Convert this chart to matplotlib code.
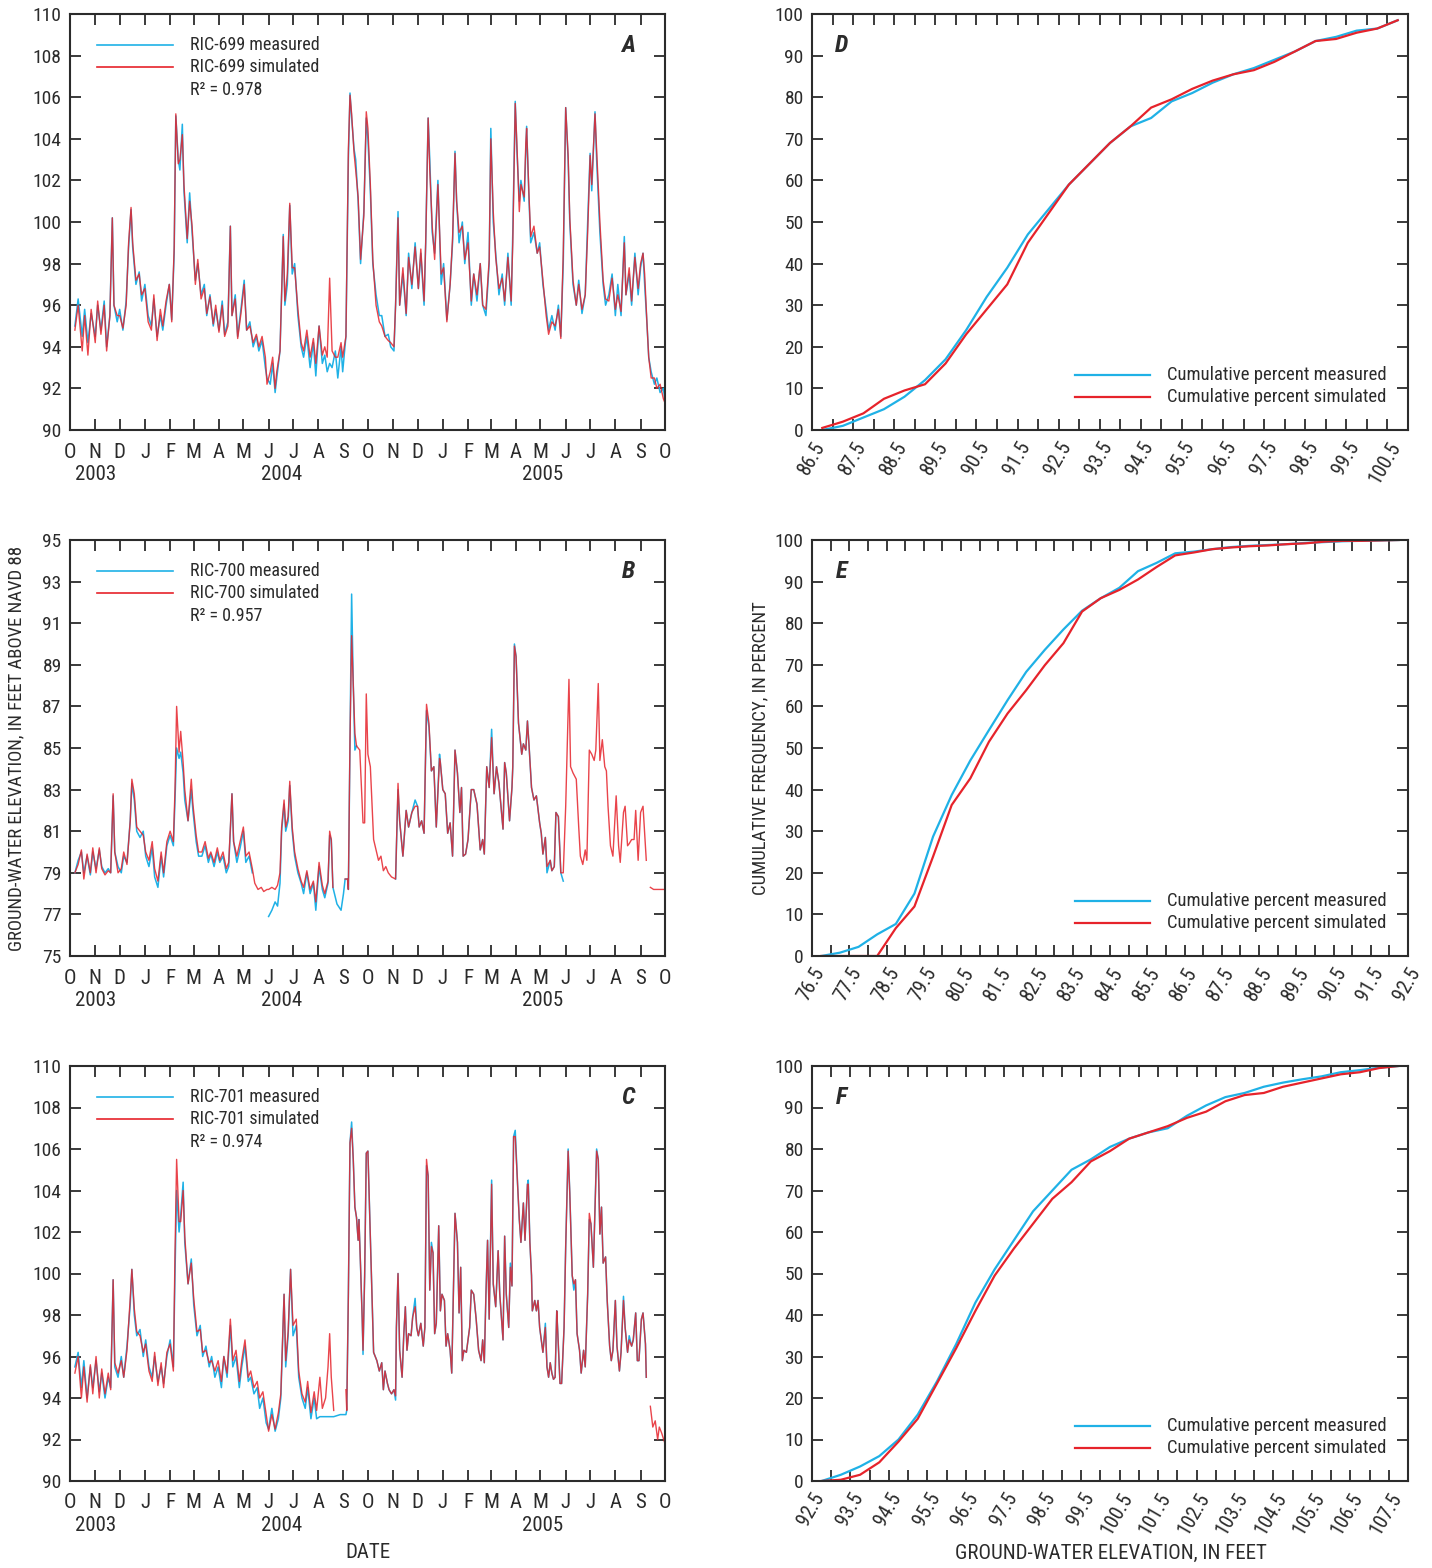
import numpy as np
import pandas as pd
import matplotlib
matplotlib.use('Agg')
import matplotlib.pyplot as plt
import matplotlib.transforms as mtrans
from matplotlib.lines import Line2D
from matplotlib import font_manager as fm

# pick a narrow sans if one is installed (the original uses a condensed face)
fonts = fm.fontManager.ttflist
names = {f.name for f in fonts}
if 'Liberation Sans Narrow' in names:
    plt.rcParams['font.family'] = ['Liberation Sans Narrow', 'DejaVu Sans']
elif 'Roboto Condensed' in names:
    plt.rcParams['font.family'] = ['Roboto Condensed', 'DejaVu Sans']
elif any(f.name == 'DejaVu Sans' and f.stretch == 'condensed' for f in fonts):
    plt.rcParams['font.family'] = ['DejaVu Sans']
    plt.rcParams['font.stretch'] = 'condensed'
else:
    plt.rcParams['font.family'] = ['Lato', 'DejaVu Sans']

nan = float('nan')
CYAN = '#1fb1e6'
RED = '#e6232b'
INK = '#2b2b2b'

# ---- hydrographs: days since 2003-10-01, measured / simulated ----
a_day = [6, 10, 15, 18, 22, 26, 31, 34, 38, 42, 45, 49, 52, 54, 58, 61, 65, 69, 72, 75,
         77, 81, 85, 88, 92, 96, 100, 103, 107, 111, 114, 118, 122, 125, 128, 130, 133, 135, 138, 140,
         144, 147, 150, 154, 157, 161, 165, 168, 172, 176, 179, 183, 187, 190, 194, 197, 199, 203, 206, 210,
         214, 217, 221, 225, 229, 232, 236, 240, 242, 246, 249, 252, 254, 258, 262, 264, 267, 270, 273, 276,
         280, 284, 287, 291, 295, 299, 302, 306, 310, 313, 316, 319, 322, 326, 329, 333, 335, 339, 342, 344,
         346, 349, 351, 354, 357, 361, 364, 366, 369, 372, 376, 380, 383, 387, 391, 394, 398, 400, 403, 405,
         409, 413, 416, 420, 424, 428, 431, 435, 437, 440, 442, 445, 448, 452, 456, 459, 463, 467, 470, 473,
         475, 478, 482, 485, 489, 493, 496, 500, 504, 507, 511, 515, 517, 520, 523, 527, 531, 534, 538, 542,
         544, 547, 549, 552, 554, 558, 560, 561, 564, 566, 570, 574, 577, 581, 585, 588, 592, 596, 600, 603,
         606, 609, 612, 614, 618, 622, 625, 629, 633, 636, 639, 641, 645, 647, 651, 655, 658, 662, 666, 670,
         673, 677, 681, 683, 687, 690, 694, 698, 701, 704, 706, 709, 711, 714, 718, 721, 725, 729, 731]
a_meas = [95.0, 96.3, 94.5, 95.8, 94.2, 95.6, 94.5, 96.0, 94.8, 96.2, 94.0, 95.5, 100.2, 96.0, 95.2, 95.8, 94.8, 96.2, 98.8, 100.6,
          98.8, 97.0, 97.6, 96.2, 97.0, 95.5, 95.0, 96.3, 94.5, 95.5, 94.8, 96.0, 97.0, 95.3, 98.5, 105.1, 103.0, 102.5, 104.7, 101.5,
          99.0, 101.4, 99.5, 97.2, 98.0, 96.5, 97.0, 95.5, 96.5, 95.0, 95.8, 94.8, 96.2, 94.6, 95.2, 99.8, 95.5, 96.5, 94.5, 95.8,
          97.2, 94.8, 95.2, 94.0, 94.5, 93.8, 94.3, 93.0, 92.5, 92.2, 93.2, 91.8, 92.5, 93.8, 99.4, 96.0, 97.0, 100.8, 97.5, 98.0,
          95.5, 94.0, 93.5, 94.5, 93.0, 94.2, 92.6, 95.0, 93.2, 93.6, 92.8, 93.2, 93.0, 93.8, 92.5, 94.0, 92.8, 94.5, 103.0, 106.2,
          105.0, 103.5, 103.0, 101.0, 98.0, 100.5, 105.0, 104.0, 101.5, 98.0, 96.5, 95.5, 95.5, 94.5, 94.6, 94.0, 93.8, 96.0, 100.5, 96.0,
          97.5, 95.5, 98.5, 96.8, 99.0, 96.8, 98.5, 96.0, 99.0, 105.0, 103.0, 99.5, 98.5, 102.0, 97.0, 98.0, 95.3, 97.0, 99.0, 103.4,
          101.0, 99.0, 100.0, 98.0, 99.5, 96.0, 97.5, 96.2, 98.0, 96.0, 95.5, 98.0, 104.5, 100.0, 98.5, 96.5, 97.5, 96.0, 98.5, 96.0,
          99.5, 105.8, 103.5, 101.0, 102.0, 101.0, 103.5, 104.6, 101.0, 99.0, 99.5, 98.5, 99.0, 97.0, 95.8, 94.8, 95.5, 94.8, 96.0, 94.5,
          98.0, 105.5, 103.0, 100.0, 97.0, 96.0, 97.2, 95.6, 96.5, 100.0, 103.3, 101.5, 105.3, 103.0, 99.5, 97.0, 96.0, 96.5, 97.5, 95.5,
          97.0, 95.5, 99.3, 96.5, 97.5, 96.0, 98.5, 96.5, 97.8, 98.5, 97.0, 95.0, 93.5, 92.8, 92.2, 92.5, 91.8, 92.0, 91.4]
a_sim = [94.8, 96.0, 93.8, 95.5, 93.6, 95.8, 94.2, 96.2, 94.6, 96.0, 93.8, 95.5, 100.2, 96.0, 95.5, 95.5, 94.9, 96.0, 99.0, 100.7,
         99.0, 97.2, 97.5, 96.5, 96.8, 95.2, 94.8, 96.5, 94.3, 95.8, 95.0, 96.2, 97.0, 95.2, 98.8, 105.2, 102.8, 103.0, 104.2, 101.8,
         99.2, 101.0, 99.8, 97.0, 98.2, 96.3, 96.8, 95.6, 96.4, 95.1, 96.0, 94.7, 96.0, 94.5, 95.0, 99.8, 95.5, 96.3, 94.4, 95.6,
         97.0, 94.8, 95.0, 94.2, 94.6, 94.0, 94.5, 93.5, 92.2, 92.8, 93.5, 92.0, 92.8, 93.8, 99.3, 96.2, 97.5, 100.9, 97.8, 97.8,
         95.8, 94.2, 93.8, 94.8, 93.5, 94.4, 93.2, 95.0, 93.6, 94.0, 93.5, 97.3, 93.8, 93.5, 93.5, 94.2, 93.5, 94.5, 103.5, 106.1,
         105.2, 103.3, 102.5, 101.2, 98.2, 100.3, 105.3, 104.5, 101.8, 98.2, 96.0, 95.2, 95.0, 94.5, 94.3, 94.2, 94.0, 96.0, 100.2, 96.0,
         97.8, 95.6, 98.3, 97.0, 98.8, 96.8, 98.7, 96.2, 99.0, 105.0, 102.5, 99.8, 98.2, 101.8, 97.5, 97.8, 95.2, 97.0, 99.2, 103.3,
         101.0, 99.5, 99.8, 98.2, 99.0, 96.2, 97.5, 96.5, 98.0, 96.0, 95.8, 98.2, 104.0, 100.5, 98.3, 96.8, 97.3, 96.2, 98.3, 96.2,
         99.0, 105.7, 103.8, 100.5, 101.8, 101.2, 103.8, 104.5, 101.2, 99.3, 99.8, 98.5, 98.8, 97.2, 95.5, 94.6, 95.2, 95.0, 95.8, 94.4,
         98.5, 105.5, 103.2, 100.2, 97.2, 96.0, 97.0, 95.8, 96.5, 99.5, 103.2, 101.8, 105.2, 103.5, 100.0, 97.2, 96.3, 96.2, 97.3, 95.8,
         96.5, 95.7, 99.0, 96.5, 97.8, 96.2, 98.3, 96.8, 98.0, 98.5, 97.5, 95.0, 93.5, 92.5, 92.5, 92.0, 92.2, 91.5, 91.3]

b_day = [6, 10, 14, 17, 21, 25, 28, 32, 36, 39, 43, 47, 50, 53, 55, 59, 63, 66, 70, 74,
         76, 79, 82, 86, 90, 93, 97, 101, 104, 108, 112, 115, 119, 123, 127, 129, 131, 134, 136, 139,
         141, 145, 149, 151, 155, 158, 162, 166, 170, 173, 177, 181, 184, 188, 192, 195, 199, 201, 205, 209,
         213, 216, 220, 224, 227, 231, 235, 238, 242, 244, 248, 252, 255, 258, 260, 263, 265, 268, 270, 273,
         276, 280, 284, 287, 291, 295, 299, 302, 306, 310, 313, 317, 319, 321, 323, 328, 333, 336, 338, 341,
         342, 344, 346, 348, 350, 352, 356, 360, 362, 364, 366, 369, 373, 376, 379, 382, 385, 388, 391, 395,
         400, 403, 405, 409, 413, 416, 420, 424, 427, 429, 432, 435, 438, 441, 444, 447, 450, 454, 455, 458,
         461, 464, 467, 470, 473, 476, 479, 481, 483, 486, 489, 493, 496, 500, 504, 507, 509, 512, 515, 518,
         521, 524, 527, 532, 534, 536, 540, 543, 544, 546, 548, 551, 555, 557, 560, 562, 564, 567, 570, 573,
         577, 579, 581, 584, 586, 590, 592, 595, 597, 600, 603, 606, 609, 613, 615, 618, 622, 625, 627, 630,
         633, 635, 638, 641, 644, 646, 649, 651, 654, 657, 659, 661, 664, 667, 671, 674, 676, 680, 682, 685,
         687, 690, 693, 695, 698, 701, 704, 708, 710, 713, 717, 723, 731]
b_meas = [79.0, 79.6, 80.0, 79.0, 79.8, 78.9, 80.0, 79.2, 80.1, 79.3, 79.0, 79.2, 79.0, 82.7, 80.0, 79.3, 79.0, 79.8, 79.5, 81.5,
          83.3, 82.5, 81.0, 80.7, 81.0, 79.8, 79.3, 80.2, 78.8, 78.3, 79.8, 78.8, 80.3, 80.8, 80.3, 82.5, 85.0, 84.5, 84.8, 83.8,
          82.5, 81.5, 83.0, 82.0, 80.5, 79.8, 79.8, 80.3, 79.5, 79.9, 79.3, 80.0, 79.5, 79.8, 79.0, 79.3, 82.8, 80.5, 79.5, 80.2,
          81.0, 79.5, 79.8, 79.0, nan, nan, nan, nan, nan, 76.9, 77.2, 77.6, 77.4, 78.5, 81.0, 82.3, 81.0, 81.5, 83.2, 81.0,
          79.8, 79.0, 78.5, 78.0, 79.0, 78.0, 78.5, 77.2, 79.3, 78.2, 77.8, 78.5, 80.8, 80.6, 78.3, 77.5, 77.2, 78.0, 78.7, 78.7,
          78.2, 85.4, 92.4, 88.1, 84.9, 85.1, nan, nan, nan, nan, nan, nan, nan, nan, nan, nan, nan, nan, nan, nan,
          78.7, 83.0, 81.5, 79.8, 82.0, 81.2, 81.9, 82.5, 82.2, 81.2, 81.5, 80.9, 86.8, 86.0, 83.9, 84.1, 81.2, 84.7, 84.3, 83.0,
          82.8, 80.9, 81.4, 79.8, 84.9, 83.8, 81.9, 83.1, 79.8, 79.9, 80.6, 83.0, 83.0, 82.3, 80.1, 80.6, 79.9, 84.1, 83.1, 85.9,
          82.8, 84.1, 83.3, 81.1, 84.3, 83.8, 81.5, 83.1, 84.1, 90.0, 89.4, 86.2, 84.7, 85.2, 84.9, 86.3, 85.1, 83.1, 82.5, 82.7,
          81.4, 80.9, 79.9, 80.7, 79.0, 79.6, 79.1, 79.3, 81.9, 81.7, 79.0, 78.6, nan, nan, nan, nan, nan, nan, nan, nan,
          nan, nan, nan, nan, nan, nan, nan, nan, nan, nan, nan, nan, nan, nan, nan, nan, nan, nan, nan, nan,
          nan, nan, nan, nan, nan, nan, nan, nan, nan, nan, nan, nan, nan]
b_sim = [79.0, 79.4, 80.1, 78.7, 79.9, 79.0, 80.2, 79.0, 80.2, 79.2, 78.9, 79.1, 79.0, 82.8, 80.0, 79.0, 79.2, 80.0, 79.4, 81.5,
         83.5, 82.8, 81.2, 81.0, 80.8, 80.0, 79.6, 80.5, 79.2, 78.6, 80.0, 79.0, 80.5, 81.0, 80.5, 83.0, 87.0, 84.8, 85.8, 84.3,
         83.0, 81.5, 83.5, 82.3, 80.8, 80.0, 80.0, 80.5, 79.7, 80.0, 79.5, 80.2, 79.6, 80.0, 79.2, 79.5, 82.8, 80.5, 79.8, 80.5,
         81.2, 79.8, 80.0, 79.2, 78.5, 78.2, 78.3, 78.1, 78.2, 78.2, 78.3, 78.2, 78.4, 79.0, 81.2, 82.5, 81.2, 81.7, 83.4, 81.2,
         80.0, 79.2, 78.6, 78.3, 79.1, 78.2, 78.6, 77.6, 79.5, 78.4, 78.0, 78.6, 81.0, 80.6, 78.3, nan, nan, nan, 78.7, 78.7,
         78.2, 85.4, 90.4, 88.1, 85.7, 85.1, 84.9, 81.4, 81.4, 87.6, 84.7, 84.1, 80.6, 80.1, 79.6, 79.8, 79.1, 79.3, 79.0, 78.8,
         78.7, 83.3, 81.5, 79.8, 82.0, 81.2, 81.9, 82.2, 82.2, 81.2, 81.5, 80.9, 87.1, 86.2, 83.9, 84.1, 81.2, 84.5, 84.3, 83.0,
         82.8, 80.9, 81.4, 79.8, 84.9, 83.8, 81.9, 83.1, 79.8, 79.9, 80.6, 83.0, 83.0, 82.3, 80.1, 80.6, 79.9, 84.1, 83.1, 85.5,
         82.8, 84.1, 83.3, 81.1, 84.3, 83.8, 81.5, 83.1, 84.1, 89.9, 89.4, 86.2, 84.7, 85.2, 84.9, 86.3, 85.1, 83.1, 82.5, 82.7,
         81.4, 80.9, 79.9, 80.7, 79.3, 79.6, 79.1, 79.3, 81.9, 81.7, 79.0, 79.0, 82.2, 88.3, 84.1, 83.8, 83.5, 81.2, 79.8, 79.4,
         80.1, 79.6, 84.9, 84.7, 84.4, 84.9, 88.1, 84.4, 85.4, 84.1, 83.9, 82.2, 80.3, 79.8, 82.7, 80.3, 79.5, 81.9, 82.2, 80.3,
         80.4, 80.6, 80.6, 82.0, 79.6, 81.9, 82.2, 79.6, nan, 78.3, 78.2, 78.2, 78.2]

c_day = [6, 10, 14, 17, 21, 25, 28, 32, 36, 39, 43, 47, 50, 53, 55, 59, 63, 66, 70, 74,
         76, 79, 82, 86, 90, 93, 97, 101, 104, 108, 112, 115, 119, 123, 127, 129, 131, 134, 136, 139,
         141, 145, 149, 152, 156, 160, 163, 167, 171, 174, 178, 182, 186, 189, 193, 197, 200, 204, 208, 211,
         215, 219, 222, 226, 230, 233, 237, 241, 244, 248, 252, 256, 259, 263, 265, 268, 271, 274, 278, 281,
         285, 289, 292, 296, 300, 303, 307, 310, 314, 317, 319, 321, 324, 332, 339, 340, 342, 344, 346, 348,
         350, 352, 354, 355, 357, 359, 360, 362, 364, 366, 368, 371, 373, 377, 380, 383, 385, 387, 390, 392,
         395, 398, 400, 401, 403, 405, 408, 410, 412, 414, 416, 419, 421, 424, 426, 428, 431, 434, 436, 438,
         440, 442, 444, 446, 448, 450, 453, 455, 457, 460, 462, 464, 467, 469, 471, 473, 476, 478, 480, 482,
         484, 487, 491, 493, 496, 499, 502, 505, 507, 509, 511, 513, 515, 518, 520, 523, 526, 528, 532, 534,
         536, 539, 541, 543, 545, 547, 550, 552, 554, 557, 559, 562, 563, 565, 567, 568, 571, 573, 575, 577,
         579, 581, 584, 586, 588, 590, 592, 594, 596, 598, 599, 602, 604, 607, 609, 612, 614, 617, 619, 621,
         623, 626, 628, 631, 633, 636, 638, 640, 643, 645, 647, 649, 651, 653, 655, 658, 660, 663, 665, 667,
         670, 672, 675, 677, 680, 682, 685, 687, 690, 692, 695, 697, 699, 702, 704, 707, 708, 710, 713, 716,
         719, 722, 724, 727, 731]
c_meas = [95.5, 96.2, 94.5, 95.8, 94.0, 95.5, 94.5, 95.8, 94.3, 95.2, 94.0, 95.0, 94.5, 99.7, 95.5, 95.0, 96.0, 95.0, 96.5, 98.5,
          100.2, 98.0, 97.0, 97.3, 96.0, 96.8, 95.5, 95.0, 96.0, 94.8, 95.5, 94.7, 96.0, 96.8, 95.5, 100.0, 104.0, 102.0, 102.8, 104.4,
          101.5, 99.5, 100.7, 98.5, 97.0, 97.5, 96.0, 96.5, 95.5, 96.0, 95.0, 95.5, 94.5, 96.0, 95.0, 97.5, 95.5, 96.0, 94.5, 95.5,
          96.5, 94.8, 95.0, 94.2, 94.5, 93.5, 94.0, 92.8, 92.5, 93.5, 92.4, 93.0, 94.0, 99.0, 95.5, 97.0, 100.2, 97.0, 97.5, 95.0,
          94.0, 93.5, 94.5, 93.0, 94.0, 93.0, 93.1, 93.1, 93.1, 93.1, 93.1, 93.1, 93.1, 93.2, 93.2, 93.4, 99.0, 106.3, 107.3, 105.5,
          103.2, 102.7, 101.6, 102.6, 100.3, 97.8, 96.1, 99.9, 105.8, 105.9, 103.1, 99.0, 96.2, 95.8, 95.3, 95.7, 94.4, 95.3, 94.7, 94.4,
          94.2, 94.4, 93.9, 97.4, 100.0, 96.3, 95.0, 97.0, 98.4, 96.3, 97.1, 97.0, 97.9, 98.8, 97.4, 97.0, 97.6, 96.5, 97.4, 105.2,
          104.7, 99.2, 101.5, 101.0, 97.1, 97.6, 102.3, 98.2, 99.0, 98.7, 96.5, 97.1, 96.3, 95.2, 99.0, 102.9, 101.5, 98.1, 100.3, 95.8,
          96.3, 96.2, 97.4, 99.2, 99.0, 97.8, 96.3, 95.8, 96.8, 95.7, 99.0, 101.6, 97.8, 104.5, 99.5, 98.4, 101.1, 99.0, 96.8, 101.8,
          99.0, 97.4, 100.5, 99.4, 106.6, 106.9, 104.2, 102.6, 101.5, 103.4, 101.6, 104.3, 104.5, 101.5, 99.9, 98.2, 98.7, 98.2, 98.7, 97.4,
          96.8, 96.2, 97.6, 95.5, 95.0, 95.7, 95.2, 94.9, 95.0, 98.2, 97.4, 94.7, 94.7, 97.4, 101.3, 106.0, 103.9, 99.9, 99.2, 99.7,
          97.1, 96.3, 95.2, 96.3, 95.5, 99.0, 102.6, 102.4, 100.3, 103.1, 106.0, 105.5, 101.9, 103.2, 100.5, 100.8, 98.7, 96.5, 95.8, 96.3,
          98.7, 96.5, 95.3, 96.2, 98.9, 97.4, 96.2, 97.0, 96.5, 96.8, 98.1, 95.8, 95.8, 97.8, 98.1, 96.6, 95.0, nan, nan, nan,
          nan, nan, nan, nan, nan]
c_sim = [95.2, 96.0, 94.0, 95.5, 93.8, 95.6, 94.2, 96.0, 94.0, 95.4, 94.2, 95.2, 94.4, 99.7, 95.7, 95.2, 95.8, 95.0, 96.3, 98.8,
         100.2, 98.3, 97.2, 97.0, 96.2, 96.6, 95.3, 94.8, 96.2, 94.6, 95.7, 94.5, 96.2, 96.6, 95.3, 101.0, 105.5, 102.5, 102.5, 104.0,
         101.8, 99.5, 100.5, 98.8, 97.2, 97.3, 96.2, 96.3, 95.7, 95.8, 95.3, 95.8, 94.8, 96.0, 95.2, 97.8, 95.8, 96.3, 94.8, 95.8,
         96.8, 95.0, 95.3, 94.5, 94.8, 94.0, 94.3, 93.2, 92.4, 93.2, 92.5, 93.3, 94.2, 99.0, 95.8, 97.2, 100.2, 97.5, 97.8, 95.3,
         94.2, 93.8, 94.8, 93.3, 94.3, 93.4, 95.0, 93.5, 94.0, 95.5, 97.1, 95.0, 93.4, nan, 94.4, 93.4, 99.0, 106.3, 107.0, 105.5,
         103.2, 102.7, 101.6, 102.6, 100.3, 97.8, 96.3, 99.9, 105.8, 105.9, 103.1, 99.0, 96.2, 95.8, 95.3, 95.7, 94.4, 95.3, 94.7, 94.4,
         94.2, 94.4, 94.1, 97.4, 100.0, 96.3, 95.0, 97.0, 98.4, 96.3, 97.1, 97.0, 97.9, 98.4, 97.4, 97.0, 97.6, 96.5, 97.4, 105.5,
         104.7, 99.2, 101.3, 101.0, 97.1, 97.6, 102.3, 98.2, 99.0, 98.7, 96.5, 97.1, 96.3, 95.2, 99.0, 102.9, 101.5, 98.1, 100.3, 95.8,
         96.3, 96.2, 97.4, 99.2, 99.0, 97.8, 96.3, 95.8, 96.8, 95.7, 99.0, 101.6, 97.8, 104.3, 99.5, 98.4, 101.1, 99.0, 96.8, 101.8,
         99.0, 97.4, 100.3, 99.4, 106.6, 106.6, 104.2, 102.6, 101.5, 103.4, 101.6, 104.3, 104.3, 101.5, 99.9, 98.2, 98.7, 98.2, 98.7, 97.4,
         96.8, 96.2, 97.4, 95.5, 95.0, 95.7, 95.2, 94.9, 95.0, 98.2, 97.4, 94.7, 94.7, 97.4, 101.3, 105.9, 103.9, 99.9, 99.5, 99.7,
         97.1, 96.3, 95.2, 96.3, 95.5, 99.0, 102.9, 102.4, 100.3, 103.1, 105.9, 105.5, 101.9, 103.2, 100.5, 100.8, 98.7, 96.5, 95.8, 96.3,
         98.7, 96.5, 95.3, 96.2, 98.7, 97.4, 96.2, 96.8, 96.5, 96.8, 98.1, 95.8, 95.8, 97.8, 98.1, 96.6, 95.0, nan, 93.6, 92.6,
         92.9, 92.0, 92.6, 92.3, 91.8]

# ---- cumulative frequency curves (percent) ----
d_elev = [86.75, 87.25, 87.75, 88.25, 88.75, 89.25, 89.75, 90.25, 90.75, 91.25, 91.75, 92.25, 92.75, 93.25, 93.75,
          94.25, 94.75, 95.25, 95.75, 96.25, 96.75, 97.25, 97.75, 98.25, 98.75, 99.25, 99.75, 100.25, 100.75]
d_meas = [0, 1, 3, 5, 8, 12, 17, 24, 32, 39, 47, 53, 59, 64, 69,
          73, 75, 79, 81, 83.5, 85.5, 87, 89, 91, 93.5, 94.5, 96, 96.5, 98.5]
d_sim = [0.5, 2, 4, 7.5, 9.5, 11, 16, 23, 29, 35, 45, 52, 59, 64, 69,
         73, 77.5, 79.5, 82, 84, 85.5, 86.5, 88.5, 91, 93.5, 94, 95.5, 96.5, 98.5]

e_elev = [76.75, 77.25, 77.75, 78.25, 78.75, 79.25, 79.75, 80.25, 80.75, 81.25, 81.75, 82.25, 82.75, 83.25, 83.75, 84.25,
          84.75, 85.25, 85.75, 86.25, 86.75, 87.25, 87.75, 88.25, 88.75, 89.25, 89.75, 90.25, 90.75, 91.25, 91.75, 92.25]
e_meas = [0, 0.8, 2.2, 5.2, 7.7, 15, 28.7, 38.7, 47, 54.3, 61.5, 68.3, 73.6, 78.5, 83, 86,
          88.5, 92.5, 94.5, 96.8, 97.2, 97.8, 98.3, 98.6, 98.8, 99.0, 99.3, 99.5, 99.7, 99.8, 99.9, 100]
e_sim = [0, 0, 0, 0, 6.7, 11.9, 23.9, 36.3, 42.7, 51.5, 58.3, 63.9, 69.9, 75.2, 82.8, 86,
         88, 90.5, 93.5, 96.3, 97, 97.8, 98.2, 98.5, 98.7, 99.0, 99.2, 99.6, 99.8, 99.8, 99.9, 100]

f_elev = [92.75, 93.25, 93.75, 94.25, 94.75, 95.25, 95.75, 96.25, 96.75, 97.25, 97.75, 98.25, 98.75, 99.25, 99.75, 100.25,
          100.75, 101.25, 101.75, 102.25, 102.75, 103.25, 103.75, 104.25, 104.75, 105.25, 105.75, 106.25, 106.75, 107.25, 107.75]
f_meas = [0, 1.5, 3.5, 6, 10, 16, 24, 33, 43, 51, 58, 65, 70, 75, 77.5, 80.5,
          82.5, 84, 85, 88, 90.5, 92.5, 93.5, 95, 96, 96.8, 97.5, 98.5, 99, 99.6, 100]
f_sim = [0, 0.3, 1.5, 4.5, 9.5, 15, 23.5, 32, 41, 49.5, 56, 62, 68, 72, 77, 79.5,
         82.5, 84, 85.5, 87.5, 89, 91.5, 93, 93.5, 95, 96, 97, 98, 98.5, 99.5, 100]

wells = ['RIC-699', 'RIC-700', 'RIC-701']
r2 = ['0.978', '0.957', '0.974']

start = pd.Timestamp('2003-10-01')
month_starts = pd.date_range('2003-10-01', '2005-10-01', freq='MS')
month_days = list((month_starts - start).days)
month_lbls = [m.strftime('%b')[0] for m in month_starts]
years = [('2003', 32), ('2004', 260), ('2005', 581)]

fig = plt.figure(figsize=(14.32, 15.68), dpi=100)
W, H = 1432, 1568


def add_ax(x0, top, bot, x1):
    return fig.add_axes([x0 / W, 1 - bot / H, (x1 - x0) / W, (bot - top) / H])


def frame(ax):
    for s in ax.spines.values():
        s.set_linewidth(1.5)
        s.set_color(INK)
    ax.tick_params(direction='in', top=True, right=True, length=8, width=1.3,
                   colors=INK, labelsize=14, pad=6)


rows = [(14, 430), (540, 956), (1066, 1481)]
ts = [(a_day, a_meas, a_sim, (90, 110), range(90, 111, 2)),
      (b_day, b_meas, b_sim, (75, 95), range(75, 96, 2)),
      (c_day, c_meas, c_sim, (90, 110), range(90, 111, 2))]
cum = [(d_elev, d_meas, d_sim, (86.5, 101.0)),
       (e_elev, e_meas, e_sim, (76.5, 92.5)),
       (f_elev, f_meas, f_sim, (92.5, 108.0))]
letters_l = ['A', 'B', 'C']
letters_r = ['D', 'E', 'F']

for i, (top, bot) in enumerate(rows):
    # hydrograph
    ax = add_ax(70, top, bot, 665)
    day, meas, sim, ylim, yt = ts[i]
    ax.plot(day, meas, color=CYAN, lw=1.1, solid_joinstyle='round')
    ax.plot(day, sim, color=RED, lw=1.0, alpha=0.85, solid_joinstyle='round')
    ax.set_xlim(0, 731)
    ax.set_ylim(*ylim)
    ax.set_yticks(list(yt))
    ax.set_xticks(month_days)
    ax.set_xticklabels(month_lbls)
    frame(ax)
    ax.tick_params(axis='x', labelsize=15, pad=9)
    tr = mtrans.blended_transform_factory(ax.transData, ax.transAxes)
    for yr, d in years:
        ax.text(d, -0.084, yr, transform=tr, ha='center', va='top', fontsize=15, color=INK)
    ax.add_line(Line2D([0.045, 0.173], [0.925, 0.925], transform=ax.transAxes, color=CYAN, lw=1.2))
    ax.add_line(Line2D([0.045, 0.173], [0.872, 0.872], transform=ax.transAxes, color=RED, lw=1.2))
    ax.text(0.202, 0.925, wells[i] + ' measured', transform=ax.transAxes, va='center', fontsize=13, color=INK)
    ax.text(0.202, 0.872, wells[i] + ' simulated', transform=ax.transAxes, va='center', fontsize=13, color=INK)
    ax.text(0.202, 0.818, 'R² = ' + r2[i], transform=ax.transAxes, va='center', fontsize=13, color=INK)
    ax.text(0.938, 0.925, letters_l[i], transform=ax.transAxes, ha='center', va='center',
            fontsize=17.5, fontweight='bold', fontstyle='italic', color=INK)

    # cumulative frequency
    ax2 = add_ax(812, top, bot, 1408)
    elev, cm, cs, xlim = cum[i]
    ax2.plot(elev, cm, color=CYAN, lw=1.6)
    ax2.plot(elev, cs, color=RED, lw=1.6)
    ax2.set_xlim(*xlim)
    ax2.set_ylim(0, 100)
    ax2.set_yticks(range(0, 101, 10))
    xt = np.arange(xlim[0], xlim[1] + 0.01, 0.5)
    ax2.set_xticks(xt)
    ax2.set_xticklabels([f'{v:.1f}' if abs(v % 1 - 0.5) < 1e-6 else '' for v in xt])
    frame(ax2)
    ax2.tick_params(axis='x', labelsize=14.5)
    for lab in ax2.get_xticklabels():
        lab.set_rotation(60)
        lab.set_ha('right')
        lab.set_va('top')
        lab.set_rotation_mode('anchor')
    ax2.add_line(Line2D([0.441, 0.567], [0.132, 0.132], transform=ax2.transAxes, color=CYAN, lw=1.6))
    ax2.add_line(Line2D([0.441, 0.567], [0.079, 0.079], transform=ax2.transAxes, color=RED, lw=1.6))
    ax2.text(0.596, 0.132, 'Cumulative percent measured', transform=ax2.transAxes, va='center',
             fontsize=13.4, color=INK)
    ax2.text(0.596, 0.079, 'Cumulative percent simulated', transform=ax2.transAxes, va='center',
             fontsize=13.4, color=INK)
    ax2.text(0.05, 0.925, letters_r[i], transform=ax2.transAxes, ha='center', va='center',
             fontsize=17.5, fontweight='bold', fontstyle='italic', color=INK)

fig.text(16 / W, 1 - 748 / H, 'GROUND-WATER ELEVATION, IN FEET ABOVE NAVD 88', rotation=90,
         ha='center', va='center', fontsize=13.5, color=INK)
fig.text(760 / W, 1 - 748 / H, 'CUMULATIVE FREQUENCY, IN PERCENT', rotation=90,
         ha='center', va='center', fontsize=13.5, color=INK)
fig.text(368 / W, 1 - 1552 / H, 'DATE', ha='center', va='center', fontsize=15, color=INK)
fig.text(1111 / W, 1 - 1553 / H, 'GROUND-WATER ELEVATION, IN FEET', ha='center', va='center',
         fontsize=15, color=INK)

fig.savefig('out.png', dpi=100)
